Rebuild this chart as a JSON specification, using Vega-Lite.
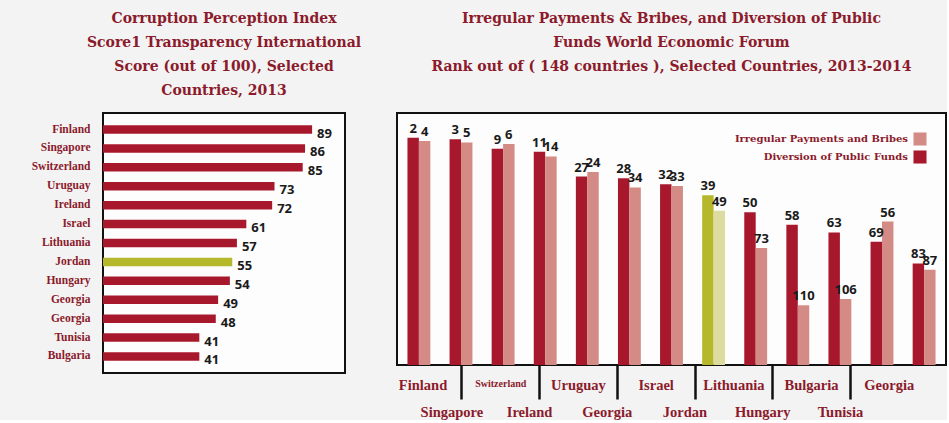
{
  "$schema": "https://vega.github.io/schema/vega-lite/v6.json",
  "background": "#f3f3f3",
  "padding": {"left": 30, "top": 11, "right": 0, "bottom": 0},
  "bounds": "flush",
  "spacing": 52,
  "resolve": {"legend": {"color": "independent"}},
  "config": {
    "view": {"stroke": "#111111", "strokeWidth": 2, "fill": "#fdfdfd"},
    "title": {"font": "DejaVu Serif", "fontSize": 14, "fontWeight": "bold", "color": "#8b1a2b", "lineHeight": 24, "anchor": "middle", "frame": "group"}
  },
  "datasets": {
    "cpi": [
      {"id": "Finland", "country": "Finland", "score": 89},
      {"id": "Singapore", "country": "Singapore", "score": 86},
      {"id": "Switzerland", "country": "Switzerland", "score": 85},
      {"id": "Uruguay", "country": "Uruguay", "score": 73},
      {"id": "Ireland", "country": "Ireland", "score": 72},
      {"id": "Israel", "country": "Israel", "score": 61},
      {"id": "Lithuania", "country": "Lithuania", "score": 57},
      {"id": "Jordan", "country": "Jordan", "score": 55},
      {"id": "Hungary", "country": "Hungary", "score": 54},
      {"id": "Georgia#1", "country": "Georgia", "score": 49},
      {"id": "Georgia#2", "country": "Georgia", "score": 48},
      {"id": "Tunisia", "country": "Tunisia", "score": 41},
      {"id": "Bulgaria", "country": "Bulgaria", "score": 41}
    ],
    "wef": [
      {"id": "Finland", "country": "Finland", "series": "Diversion of Public Funds", "rank": 2},
      {"id": "Finland", "country": "Finland", "series": "Irregular Payments and Bribes", "rank": 4},
      {"id": "Singapore", "country": "Singapore", "series": "Diversion of Public Funds", "rank": 3},
      {"id": "Singapore", "country": "Singapore", "series": "Irregular Payments and Bribes", "rank": 5},
      {"id": "Switzerland", "country": "Switzerland", "series": "Diversion of Public Funds", "rank": 9},
      {"id": "Switzerland", "country": "Switzerland", "series": "Irregular Payments and Bribes", "rank": 6},
      {"id": "Ireland", "country": "Ireland", "series": "Diversion of Public Funds", "rank": 11},
      {"id": "Ireland", "country": "Ireland", "series": "Irregular Payments and Bribes", "rank": 14},
      {"id": "Uruguay", "country": "Uruguay", "series": "Diversion of Public Funds", "rank": 27},
      {"id": "Uruguay", "country": "Uruguay", "series": "Irregular Payments and Bribes", "rank": 24},
      {"id": "Georgia#1", "country": "Georgia", "series": "Diversion of Public Funds", "rank": 28},
      {"id": "Georgia#1", "country": "Georgia", "series": "Irregular Payments and Bribes", "rank": 34},
      {"id": "Israel", "country": "Israel", "series": "Diversion of Public Funds", "rank": 32},
      {"id": "Israel", "country": "Israel", "series": "Irregular Payments and Bribes", "rank": 33},
      {"id": "Jordan", "country": "Jordan", "series": "Diversion of Public Funds", "rank": 39},
      {"id": "Jordan", "country": "Jordan", "series": "Irregular Payments and Bribes", "rank": 49},
      {"id": "Lithuania", "country": "Lithuania", "series": "Diversion of Public Funds", "rank": 50},
      {"id": "Lithuania", "country": "Lithuania", "series": "Irregular Payments and Bribes", "rank": 73},
      {"id": "Hungary", "country": "Hungary", "series": "Diversion of Public Funds", "rank": 58},
      {"id": "Hungary", "country": "Hungary", "series": "Irregular Payments and Bribes", "rank": 110},
      {"id": "Bulgaria", "country": "Bulgaria", "series": "Diversion of Public Funds", "rank": 63},
      {"id": "Bulgaria", "country": "Bulgaria", "series": "Irregular Payments and Bribes", "rank": 106},
      {"id": "Tunisia", "country": "Tunisia", "series": "Diversion of Public Funds", "rank": 69},
      {"id": "Tunisia", "country": "Tunisia", "series": "Irregular Payments and Bribes", "rank": 56},
      {"id": "Georgia#2", "country": "Georgia", "series": "Diversion of Public Funds", "rank": 83},
      {"id": "Georgia#2", "country": "Georgia", "series": "Irregular Payments and Bribes", "rank": 87}
    ]
  },
  "hconcat": [
    {
      "width": 242,
      "height": 260,
      "title": {"text": ["Corruption Perception Index", "Score1 Transparency International", "Score (out of 100), Selected", "Countries, 2013"], "offset": 15},
      "data": {"name": "cpi"},
      "layer": [
        {
          "mark": {"type": "bar"},
          "encoding": {
            "y": {"field": "id", "type": "nominal", "sort": null,
              "scale": {"paddingInner": 0.55, "paddingOuter": 0.65},
              "axis": {"title": null, "ticks": false, "domain": false, "labelExpr": "split(datum.label,'#')[0]", "labelFont": "Liberation Serif", "labelFontWeight": "bold", "labelFontSize": 11.5, "labelColor": "#8b1a2b", "labelPadding": 13}},
            "x": {"field": "score", "type": "quantitative", "scale": {"domain": [0, 103], "nice": false}, "axis": null},
            "color": {"condition": {"test": "datum.country === 'Jordan'", "value": "#b5b82a"}, "value": "#a8182d"}
          }
        },
        {
          "mark": {"type": "text", "align": "left", "dx": 5, "dy": 4, "font": "Open Sans", "fontWeight": "bold", "fontSize": 13, "color": "#1a1a1a"},
          "encoding": {
            "y": {"field": "id", "type": "nominal", "sort": null},
            "x": {"field": "score", "type": "quantitative"},
            "text": {"field": "score"}
          }
        }
      ]
    },
    {
      "width": 549,
      "height": 252,
      "title": {"text": ["Irregular Payments & Bribes, and Diversion of Public", "Funds World Economic Forum", "Rank out of ( 148 countries ), Selected Countries, 2013-2014"], "offset": 39},
      "data": {"name": "wef"},
      "layer": [
        {
          "layer": [
            {
              "mark": {"type": "bar"},
              "encoding": {
                "x": {"field": "id", "type": "nominal", "sort": null, "scale": {"paddingInner": 0, "paddingOuter": 0.02}, "axis": null},
                "xOffset": {"field": "series", "sort": ["Diversion of Public Funds", "Irregular Payments and Bribes"], "scale": {"paddingOuter": 0.84, "paddingInner": 0}},
                "y": {"field": "rank", "type": "quantitative", "scale": {"domain": [-14, 148.5], "reverse": true, "nice": false, "zero": false}, "axis": null},
                "y2": {"datum": 148.5},
                "color": {
                  "field": "series", "type": "nominal",
                  "scale": {"domain": ["Irregular Payments and Bribes", "Diversion of Public Funds"], "range": ["#d48b86", "#a8182d"]},
                  "condition": [
                    {"test": "datum.country === 'Jordan' && datum.series === 'Diversion of Public Funds'", "value": "#b5b82a"},
                    {"test": "datum.country === 'Jordan'", "value": "#dcdba0"}
                  ],
                  "legend": {"title": null, "orient": "top-right", "offset": 16, "padding": 3, "symbolType": "square", "symbolSize": 170, "symbolStrokeWidth": 0, "labelFont": "DejaVu Serif", "labelFontWeight": "bold", "labelFontSize": 10, "labelColor": "#8b1a2b", "labelAlign": "right", "labelOffset": -19, "labelLimit": 400, "rowPadding": 4}
                }
              }
            },
            {
              "mark": {"type": "text", "dy": -9, "font": "Open Sans", "fontWeight": "bold", "fontSize": 13, "color": "#1a1a1a"},
              "encoding": {
                "x": {"field": "id", "type": "nominal", "sort": null},
                "xOffset": {"field": "series", "sort": ["Diversion of Public Funds", "Irregular Payments and Bribes"]},
                "y": {"field": "rank", "type": "quantitative"},
                "text": {"field": "rank"}
              }
            }
          ]
        },
        {
          "mark": {"type": "point", "opacity": 0},
          "encoding": {
            "x": {"field": "id", "type": "nominal", "sort": null,
              "scale": {"type": "band", "paddingInner": 0, "paddingOuter": 0.564, "align": 0.15},
              "axis": {"title": null, "orient": "bottom", "domain": false, "ticks": true, "tickSize": 34, "tickWidth": 2.5, "tickColor": "#111111",
                "tickOpacity": {"condition": {"test": "indexof(['Singapore','Ireland','Georgia#1','Jordan','Hungary','Tunisia'], datum.value) >= 0", "value": 1}, "value": 0},
                "labelOffset": {"condition": {"test": "indexof(['Singapore','Ireland','Georgia#1','Jordan','Hungary','Tunisia'], datum.value) >= 0", "value": -10}, "value": 0},
                "labelFontSize": {"condition": {"test": "datum.value === 'Switzerland'", "value": 10}, "value": 14.5},
                "labelExpr": "indexof(['Singapore','Ireland','Georgia#1','Jordan','Hungary','Tunisia'], datum.value) >= 0 ? ['', split(datum.value,'#')[0]] : split(datum.value,'#')[0]",
                "labelPadding": -21, "labelLineHeight": 27, "labelBaseline": "top", "labelOverlap": false, "labelBound": false,
                "labelFont": "Liberation Serif", "labelFontWeight": "bold", "labelColor": "#8b1a2b", "labelAngle": 0}
            }
          }
        }
      ],
      "resolve": {"scale": {"x": "independent"}}
    }
  ]
}
